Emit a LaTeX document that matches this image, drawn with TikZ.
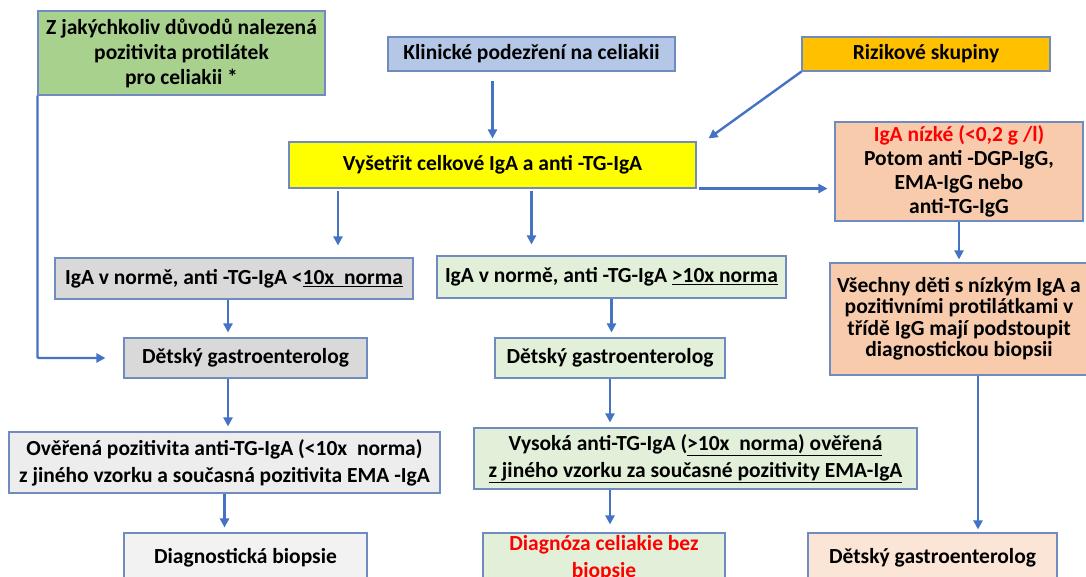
\documentclass[tikz,border=0pt]{standalone}
\usepackage{fontspec}
\setmainfont{Carlito}
\usepackage{tikz}
\usetikzlibrary{arrows.meta}
\definecolor{bordc}{HTML}{6F8BC0}
\definecolor{arrc}{HTML}{4472C4}
\definecolor{zelena}{HTML}{A9D18E}
\definecolor{modra}{HTML}{B4C7E7}
\definecolor{oranz}{HTML}{FFC000}
\definecolor{zluta}{HTML}{FFFF00}
\definecolor{losos}{HTML}{F8CBAD}
\definecolor{svlosos}{HTML}{FBE5D6}
\definecolor{seda}{HTML}{D9D9D9}
\definecolor{svseda}{HTML}{EDEDED}
\definecolor{svsvseda}{HTML}{F2F2F2}
\definecolor{svzelena}{HTML}{E2F0D9}
\definecolor{cervena}{HTML}{FF0000}
\tikzset{
  box/.style={draw=bordc,line width=1.1pt,align=center,inner sep=0pt,
    font=\fontsize{21.5}{25}\selectfont\bfseries},
  arr/.style={draw=arrc,line width=2.4pt,-{Triangle[length=9pt,width=9pt]}}
}
\begin{document}
\begin{tikzpicture}[x=1pt,y=-1pt]
\useasboundingbox (0,0) rectangle (1086,577);
\clip (0,0) rectangle (1086,577);
\node[box,fill=zelena,minimum width=287,minimum height=84] (zjak) at (181.5,53)
  {Z jakýchkoliv důvodů nalezená\\pozitivita protilátek\\pro celiakii *};
\node[box,fill=modra,minimum width=287,minimum height=34] (klin) at (531.5,54)
  {Klinické podezření na celiakii};
\node[box,fill=oranz,minimum width=248,minimum height=34] (riz) at (926,54)
  {Rizikové skupiny};
\node[box,fill=zluta,minimum width=407,minimum height=46] (vys) at (492.5,165)
  {Vyšetřit celkové IgA a anti -TG-IgA};
\node[box,fill=losos,minimum width=248,minimum height=99,
  font=\fontsize{21.5}{24}\selectfont\bfseries] (nizke) at (959,171.5)
  {\textcolor{cervena}{IgA nízké (<0,2 g /l)}\\Potom anti -DGP-IgG,\\EMA-IgG nebo\\anti-TG-IgG};
\node[box,fill=seda,minimum width=358,minimum height=41] (normL) at (234,278.5)
  {IgA v normě, anti -TG-IgA <\underline{10x\ \ norma}};
\node[box,fill=svzelena,minimum width=349,minimum height=42] (normM) at (611.5,277)
  {IgA v normě, anti -TG-IgA \underline{>10x norma}};
\node[box,fill=losos,minimum width=258,minimum height=112,
  font=\fontsize{21.5}{21.5}\selectfont\bfseries] (vsech) at (959,319)
  {Všechny děti s nízkým IgA a\\pozitivními protilátkami v\\třídě IgG mají podstoupit\\diagnostickou biopsii};
\node[box,fill=seda,minimum width=243,minimum height=40] (gastL) at (245.5,358)
  {Dětský gastroenterolog};
\node[box,fill=svzelena,minimum width=230,minimum height=40] (gastM) at (610,358)
  {Dětský gastroenterolog};
\node[box,fill=svseda,minimum width=431,minimum height=61,
  font=\fontsize{21.5}{27}\selectfont\bfseries] (overL) at (224.5,462.5)
  {Ověřená pozitivita anti-TG-IgA (<10x\ \ norma)\\z jiného vzorku a současná pozitivita EMA -IgA};
\node[box,fill=svzelena,minimum width=443,minimum height=61,
  font=\fontsize{21.5}{27}\selectfont\bfseries] (vysok) at (695.5,458.5)
  {Vysoká anti-TG-IgA (\underline{>10x\ \ norma) ověřená}\\\underline{z jiného vzorku za současné pozitivity EMA-IgA}};
\node[box,fill=svsvseda,minimum width=243,minimum height=50] (biopL) at (245.5,558)
  {Diagnostická biopsie};
\node[box,fill=svzelena,minimum width=242,minimum height=50,
  font=\fontsize{21.5}{27}\selectfont\bfseries] (diagM) at (604,558)
  {\textcolor{cervena}{Diagnóza celiakie bez}\\\textcolor{cervena}{biopsie}};
\node[box,fill=svlosos,minimum width=249,minimum height=50] (gastR) at (932.5,558)
  {Dětský gastroenterolog};
\draw[arr,rounded corners=1pt,shorten >=2pt] (zjak.south west) |- ([xshift=-16pt]gastL.west);
\draw[arr] ([yshift=-9pt]klin.south -| vys.north) -- ([yshift=3pt]vys.north);
\draw[arr] (riz.south west) -- ([xshift=12pt,yshift=3pt]vys.north east);
\draw[arr,shorten <=2pt,shorten >=7pt] (vys.south east) -- (vys.south east -| nizke.west);
\draw[arr,shorten <=2pt,shorten >=12pt] ([xshift=104pt]normL.north |- vys.south) -- ([xshift=104pt]normL.north);
\draw[arr,shorten <=2pt,shorten >=11pt] ([xshift=-80pt]normM.north |- vys.south) -- ([xshift=-80pt]normM.north);
\draw[arr,shorten >=5pt] ([xshift=-6pt]normL.south) -- ([xshift=-6pt]normL.south |- gastL.north);
\draw[arr,shorten >=5pt] (normM.south) -- (normM.south |- gastM.north);
\draw[arr,shorten >=3pt] (nizke.south) -- (vsech.north);
\draw[arr,shorten >=5pt] ([xshift=-17.5pt]gastL.south) -- ([xshift=-17.5pt]gastL.south |- overL.north);
\draw[arr,shorten >=5pt] (gastM.south) -- (gastM.south |- vysok.north);
\draw[arr,shorten >=5pt] (overL.south) -- (overL.south |- biopL.north);
\draw[arr,shorten >=8pt] ([xshift=-85.5pt]vysok.south) -- ([xshift=-85.5pt]vysok.south |- diagM.north);
\draw[arr,shorten >=3pt] ([xshift=19pt]vsech.south) -- ([xshift=19pt]vsech.south |- gastR.north);
\end{tikzpicture}
\end{document}
